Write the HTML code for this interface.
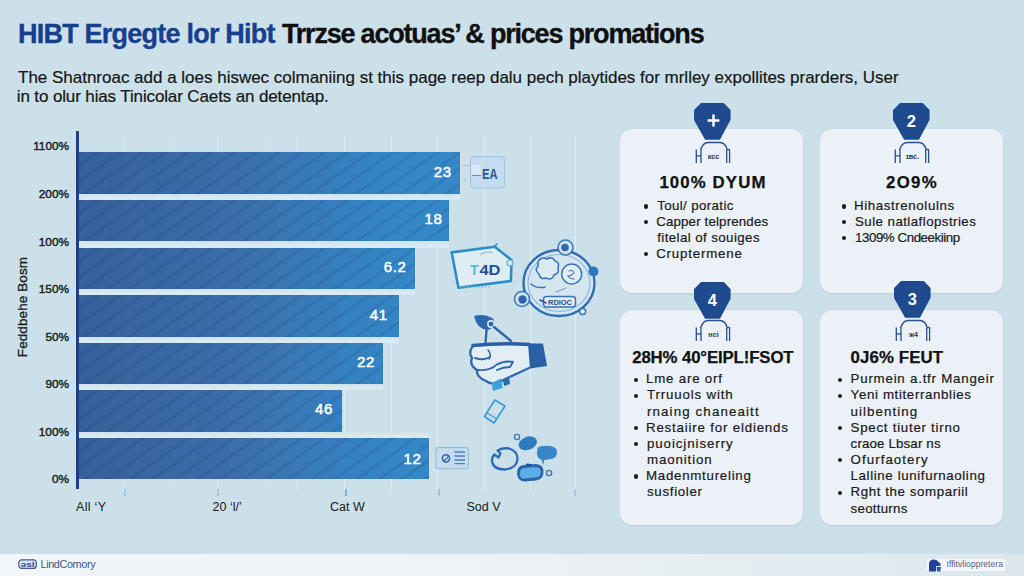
<!DOCTYPE html>
<html><head><meta charset="utf-8">
<style>
*{margin:0;padding:0;box-sizing:border-box}
html,body{width:1024px;height:576px;overflow:hidden}
body{position:relative;font-family:"Liberation Sans",sans-serif;background:#cce0e9;color:#1b1b1b}
.abs{position:absolute;white-space:nowrap}
#title{left:17.8px;top:19.2px;font-size:27px;font-weight:bold;line-height:30px;color:#111;transform:scaleX(.921);transform-origin:0 0}
#title .b{color:#1c4896}
#sub{left:18px;top:67.9px;font-size:17px;line-height:20px;color:#1e1e1e}
.yl{position:absolute;right:955px;font-size:11.8px;font-weight:normal;-webkit-text-stroke:0.45px #222;color:#222;line-height:12px;text-align:right}
.bar{position:absolute;left:79px;height:41.5px;background:
 repeating-linear-gradient(145deg,rgba(25,55,110,0) 0px,rgba(25,55,110,0) 9px,rgba(25,55,110,.16) 10.5px,rgba(25,55,110,.16) 11.5px,rgba(25,55,110,0) 13px),
 linear-gradient(90deg,#35609b 0px,#37629c 30px,#3a6dab 150px,#3a76b2 200px,#3580bf 266px,#3587c5 331px,#3488c7 381px);background-size:auto,381px 100%;background-repeat:repeat,no-repeat}
.bv{position:absolute;color:#fff;font-weight:normal;-webkit-text-stroke:0.5px #fff;font-size:15px;line-height:16px;letter-spacing:0.6px}
.gl{position:absolute;width:1.4px;background:rgba(228,240,247,.75)}
.xl{position:absolute;top:500px;font-size:12.5px;color:#1a1a1a;line-height:14px}
.tk{position:absolute;top:489px;width:1.5px;height:7px;background:#7fb0d4}
.card{position:absolute;background:#ebf1f6;border-radius:12px;box-shadow:0 0.5px 1.5px rgba(120,150,175,.25)}
.badge{position:absolute;width:37px;height:37px}
.ct{position:absolute;font-weight:bold;font-size:16.5px;color:#111;line-height:18px;white-space:nowrap}
.ul{position:absolute;font-size:13px;line-height:16.2px;color:#1a1a1a;white-space:nowrap}
.ul div{position:relative}
.ul div.b:before{content:"";position:absolute;left:-12px;top:6.5px;width:4.5px;height:4.5px;border-radius:50%;background:#1a1a1a}
#foot{position:absolute;left:0;top:553.5px;width:1024px;height:23px;background:linear-gradient(90deg,#f3f6f8 0%,#eef3f6 45%,#e2ebf0 80%,#dce7ed 100%)}
.t{position:absolute;white-space:nowrap;line-height:1}
.bl{position:absolute;width:4.2px;height:4.2px;border-radius:50%;background:#1c1c1c}
</style></head><body>


<!-- chart gridlines -->
<div class="gl" style="left:123.5px;top:136px;height:355px;opacity:.5"></div>
<div class="gl" style="left:172.5px;top:136px;height:355px;opacity:.5"></div>
<div class="gl" style="left:216.5px;top:136px;height:355px;opacity:.5"></div>
<div class="gl" style="left:266px;top:136px;height:355px;opacity:.5"></div>
<div class="gl" style="left:296px;top:136px;height:355px;opacity:.5"></div>
<div class="gl" style="left:343.5px;top:136px;height:355px"></div>
<div class="gl" style="left:391px;top:136px;height:355px"></div>
<div class="gl" style="left:437px;top:136px;height:355px"></div>
<div class="gl" style="left:483.5px;top:136px;height:355px"></div>
<div class="gl" style="left:530px;top:136px;height:355px"></div>
<div class="gl" style="left:575px;top:136px;height:355px"></div>

<div style="position:absolute;left:79px;top:193.5px;width:381px;height:6.0px;background:linear-gradient(180deg,#d0e3ec 0%,#d6e8f1 50%,#dbeef8 85%,#cfe3ee 100%)"></div>
<div style="position:absolute;left:79px;top:241.0px;width:370px;height:6.5px;background:linear-gradient(180deg,#d0e3ec 0%,#d6e8f1 50%,#dbeef8 85%,#cfe3ee 100%)"></div>
<div style="position:absolute;left:79px;top:289.0px;width:335.5px;height:6.0px;background:linear-gradient(180deg,#d0e3ec 0%,#d6e8f1 50%,#dbeef8 85%,#cfe3ee 100%)"></div>
<div style="position:absolute;left:79px;top:336.5px;width:319.5px;height:6.0px;background:linear-gradient(180deg,#d0e3ec 0%,#d6e8f1 50%,#dbeef8 85%,#cfe3ee 100%)"></div>
<div style="position:absolute;left:79px;top:384.0px;width:303.5px;height:6.0px;background:linear-gradient(180deg,#d0e3ec 0%,#d6e8f1 50%,#dbeef8 85%,#cfe3ee 100%)"></div>
<div style="position:absolute;left:79px;top:431.5px;width:349.5px;height:6.0px;background:linear-gradient(180deg,#d0e3ec 0%,#d6e8f1 50%,#dbeef8 85%,#cfe3ee 100%)"></div>
<div class="bar" style="top:152px;width:381px"></div>
<div class="bar" style="top:199.5px;width:370px"></div>
<div class="bar" style="top:247.5px;width:335.5px"></div>
<div class="bar" style="top:295px;width:319.5px"></div>
<div class="bar" style="top:342.5px;width:303.5px"></div>
<div class="bar" style="top:390px;width:263px"></div>
<div class="bar" style="top:437.5px;width:349.5px"></div>

<div style="position:absolute;left:76px;top:131px;width:3px;height:358px;background:#1f3f85"></div>

<div class="tk" style="left:124px;opacity:.5"></div>
<div class="tk" style="left:217px;opacity:.5"></div>
<div class="tk" style="left:345px"></div>
<div class="tk" style="left:438px;opacity:.6"></div>
<div class="tk" style="left:574px;opacity:.5"></div>

<div class="bv" id="v1" style="left:433.8px;top:163.6px">23</div>
<div class="bv" id="v2" style="left:424.6px;top:211.2px">18</div>
<div class="bv" id="v3" style="left:383.8px;top:259px">6.2</div>
<div class="bv" id="v4" style="left:369.8px;top:306.5px">41</div>
<div class="bv" id="v5" style="left:357px;top:354.4px">22</div>
<div class="bv" id="v6" style="left:315px;top:401px">46</div>
<div class="bv" id="v7" style="left:403.6px;top:450.5px">12</div>

<div class="yl" id="y1" style="top:140px">1100%</div>
<div class="yl" style="top:188px">200%</div>
<div class="yl" style="top:235.5px">100%</div>
<div class="yl" style="top:283px">150%</div>
<div class="yl" style="top:331px">50%</div>
<div class="yl" style="top:378px">90%</div>
<div class="yl" style="top:426px">100%</div>
<div class="yl" style="top:473px">0%</div>

<div id="ytitle" class="abs" style="left:23px;top:307.3px;font-size:13.5px;line-height:14px;color:#1a1a1a;letter-spacing:0.1px;-webkit-text-stroke:0.3px #1a1a1a;transform:translate(-50%,-50%) rotate(-90deg)">Feddbehe Bosm</div>

<div class="xl" id="x1" style="left:76px;letter-spacing:0.3px">All ‘Y</div>
<div class="xl" style="left:212.5px">20 ‘l/’</div>
<div class="xl" style="left:330px">Cat W</div>
<div class="xl" style="left:466.5px">Sod V</div>

<!-- DECOR -->
<svg style="position:absolute;left:0;top:0" width="1024" height="576" viewBox="0 0 1024 576">
<!-- EA box -->
<g>
<path d="M463 165.5 H470 M472 175.5 H480 M465 178 V182" stroke="#9cc3e0" stroke-width="1" fill="none"/>
<rect x="470.5" y="156.5" width="34" height="31.5" rx="3.5" fill="#c5dcee" stroke="#9ec2e2" stroke-width="1"/>
<rect x="471" y="165" width="10" height="10.5" fill="#d9e8f3"/>
<path d="M472 175.5 H481" stroke="#5d8fc4" stroke-width="1"/>
<text x="482" y="178.8" font-family="Liberation Sans" font-weight="bold" font-size="15.5" fill="#2a5796" textLength="15.5" lengthAdjust="spacingAndGlyphs">EA</text>
</g>
<!-- tablet -->
<g>
<path d="M451.7 252.4 L494.7 246.7 L511.5 260 L510.9 281 L458.4 287.8 Z" fill="#dfecf4" stroke="#2a8fc4" stroke-width="2.6" stroke-linejoin="round"/>
<path d="M494.7 246.7 L497 243.5" stroke="#2a8fc4" stroke-width="1.5"/>
<circle cx="510" cy="263" r="3" fill="#d6e7f1" stroke="#6ab0d8" stroke-width="1.2"/>
<path d="M460 287 H490" stroke="#7fbadf" stroke-width="1.2" stroke-dasharray="2 1.5"/>
<path d="M480 255 Q486 250 493 253" stroke="#8cc2e2" stroke-width="1.2" fill="none"/>
<text x="470" y="275" font-family="Liberation Sans" font-weight="bold" font-size="14" fill="#55bdd4">T</text>
<text x="479.4" y="275" font-family="Liberation Sans" font-weight="bold" font-size="14" fill="#1f4f8f" textLength="21" lengthAdjust="spacingAndGlyphs">4D</text>
</g>
<!-- gear circle -->
<g fill="none" stroke-linecap="round">
<ellipse cx="559" cy="283" rx="35.5" ry="33" fill="#d4e5ef" stroke="#2f6fb0" stroke-width="2.4"/>
<ellipse cx="559" cy="283" rx="31" ry="28.5" stroke="#8ab8dc" stroke-width="1.2"/>
<path d="M538 262 q3 -6 9 -3 q5 -3 8 2 q5 1 3 7 q2 5 -4 7 q-2 6 -8 3 q-6 2 -7 -4 q-5 -4 -1 -8 z" stroke="#3c78b8" stroke-width="1.6" fill="#dceaf3"/>
<path d="M531 284 q6 5 14 3" stroke="#3c78b8" stroke-width="1.6"/>
<circle cx="571.7" cy="274" r="10" stroke="#3d78b6" stroke-width="1.5" fill="#e2eef5"/>
<path d="M569 271 q4 -2 5 2 q-3 3 -6 3 q2 3 6 3" stroke="#5a88bb" stroke-width="1.3"/>
<circle cx="565.5" cy="247.5" r="7.5" stroke="#3b79b9" stroke-width="1.6" fill="#d4e5ef"/>
<circle cx="565" cy="247.5" r="3.8" fill="#2d6db5" stroke="none"/>
<circle cx="593.5" cy="271.5" r="5" fill="#2e78c2" stroke="none"/>
<circle cx="522" cy="299" r="7.5" stroke="#3b79b9" stroke-width="1.6" fill="#d4e5ef"/>
<circle cx="522.5" cy="299.5" r="4.2" fill="#2d66ad" stroke="none"/>
<rect x="543.5" y="296.5" width="32" height="10.5" rx="3" stroke="#3a72b4" stroke-width="1.5" fill="#e0ecf4"/>
<text x="548" y="305" font-family="Liberation Sans" font-weight="bold" font-size="8" fill="#2a4f88" stroke="none" textLength="24" lengthAdjust="spacingAndGlyphs">RDIOC</text>
<path d="M540 300 L546 303" stroke="#2a4f88" stroke-width="1.5"/>
<circle cx="582.7" cy="311.5" r="3" stroke="#3a72b4" stroke-width="1.4" fill="#e0ecf4"/>
<path d="M556 292 L566 288" stroke="#6a9ccc" stroke-width="1"/>
</g>
<!-- hand -->
<g stroke-linecap="round" stroke-linejoin="round">
<path d="M473 346 Q468 352 472 358 Q469 365 477 370 Q476 377 486 381 Q491 385 499 382 L529 368 L529 345 Q500 343 473 346 Z" fill="#e2edf4"/>
<path d="M474 316 Q484 313 493 318.5 Q496 323 493 327 Q489 331 486 330 Q479 328 476 322 Z" fill="#2f67ad"/>
<circle cx="491" cy="324" r="3.2" fill="none" stroke="#e2edf4" stroke-width="1.4"/>
<path d="M486.5 330 L485.5 343 M494 327 L511 341" stroke="#2f67ad" stroke-width="2.4" fill="none"/>
<path d="M473 345.5 Q500 342.5 529 344.5" stroke="#2a5ea5" stroke-width="3.6" fill="none"/>
<path d="M528 343.5 L543 343.5 L547 366 L530 368.5 Z" fill="#2a5ea5"/>
<path d="M473 346 Q468 352 472 358 Q469 365 477 370 Q476 377 486 381 Q491 385 499 382 L529 368" stroke="#3069ae" stroke-width="2.3" fill="none"/>
<path d="M475 358 Q484 361 490 357 M478 370 Q488 371 495 366 M496 365 Q505 360 513 362 L510 367 Q503 367 497 370" stroke="#3069ae" stroke-width="1.9" fill="none"/>
<path d="M488 350 Q492 355 489 359" stroke="#3069ae" stroke-width="1.5" fill="none"/>
<path d="M491.5 383 L501 378.5 L502.5 388 L493 391 Z" fill="#3da0dc"/>
<path d="M503 380 L509 377 L510 384 L504 386 Z" fill="#2f67ad"/>
</g>
<!-- phone -->
<g fill="none" stroke="#3a9ad8" stroke-width="1.6" stroke-linejoin="round">
<path d="M494.8 400 L505 406 L494 423 L484.5 416.5 Z"/>
<path d="M487 413 L496 418.5" stroke-width="1.1"/>
</g>
<!-- card icon -->
<g>
<rect x="435.8" y="447.6" width="32.6" height="21.2" rx="2.5" fill="#c6dcee" stroke="#8fb7da" stroke-width="1"/>
<circle cx="446" cy="458.3" r="3.6" fill="none" stroke="#2a66aa" stroke-width="1.5"/>
<path d="M443.5 461 Q447 459 449 455.5" stroke="#2a66aa" stroke-width="1.3" fill="none"/>
<path d="M454.5 452 H465 M454.5 456 H465 M454.5 460 H465 M454.5 463.6 H465" stroke="#4a80bd" stroke-width="1.3"/>
</g>
<!-- bottom icons -->
<g stroke-linecap="round">
<path d="M497.5 450.5 Q503 447.5 509 448.5 Q517.5 451 517.5 459 Q517 468 505 469.5 Q493 469.5 492 461 Q492 456.5 494.5 454.5 L498.5 457.5 L500.5 453.5 Z" fill="none" stroke="#2f6db2" stroke-width="2.3" stroke-linejoin="round"/>
<ellipse cx="527.8" cy="443.3" rx="9.5" ry="6.5" transform="rotate(-20 527.8 443.3)" fill="#2f7bc0"/>
<circle cx="517" cy="437" r="2.6" fill="none" stroke="#3a78b8" stroke-width="1.3"/>
<path d="M537.5 448 Q541 445 550 446 Q557 447 557 452 Q557 458 551 459 L544 460 L543.5 465 L541 459.5 Q537 458 537 453 Z" fill="#3a85c8"/>
<path d="M518.5 474 Q518 467 524 466.5 L536 465.5 Q542 466 542 471 Q543 478 536 479 L524 480 Q519 480 518.5 474 Z" fill="#5aaee6" stroke="#2a62ab" stroke-width="2.8"/>
<path d="M527 464.5 L531 465" stroke="#1f4f90" stroke-width="2"/>
<circle cx="549" cy="473" r="2.6" fill="none" stroke="#3a78b8" stroke-width="1.4"/>
</g>
</svg>


<!-- cards -->
<div class="card" style="left:620px;top:128.5px;width:183px;height:164px"></div>
<div class="card" style="left:820px;top:128.5px;width:183px;height:164px"></div>
<div class="card" style="left:620px;top:310px;width:183px;height:215px"></div>
<div class="card" style="left:820px;top:310px;width:183px;height:215px"></div>

<svg class="badge" style="left:694.1px;top:103.3px" viewBox="0 0 37 37"><path d="M7.3 1.2 H29.5 L35.5 7.5 V16.6 L25.4 35.6 H11.8 L1.1 16.6 V7.5 Z" fill="#1f4a8e" stroke="#1f4a8e" stroke-width="2.2" stroke-linejoin="round"/><path d="M19.5 11.6 V23.4 M13.6 17.5 H25.4" stroke="#fff" stroke-width="2.5"/></svg>
<svg class="badge" style="left:893.2px;top:103.3px" viewBox="0 0 37 37"><path d="M7.3 1.2 H29.5 L35.5 7.5 V16.6 L25.4 35.6 H11.8 L1.1 16.6 V7.5 Z" fill="#1f4a8e" stroke="#1f4a8e" stroke-width="2.2" stroke-linejoin="round"/><text x="18.3" y="23.6" font-family="Liberation Sans" font-weight="bold" font-size="16.5" fill="#fff" text-anchor="middle">2</text></svg>
<svg class="badge" style="left:693.5px;top:281.5px" viewBox="0 0 37 37"><path d="M7.3 1.2 H29.5 L35.5 7.5 V16.6 L25.4 35.6 H11.8 L1.1 16.6 V7.5 Z" fill="#1f4a8e" stroke="#1f4a8e" stroke-width="2.2" stroke-linejoin="round"/><text x="18.3" y="23.6" font-family="Liberation Sans" font-weight="bold" font-size="16.5" fill="#fff" text-anchor="middle">4</text></svg>
<svg class="badge" style="left:894.4px;top:281.3px" viewBox="0 0 37 37"><path d="M7.3 1.2 H29.5 L35.5 7.5 V16.6 L25.4 35.6 H11.8 L1.1 16.6 V7.5 Z" fill="#1f4a8e" stroke="#1f4a8e" stroke-width="2.2" stroke-linejoin="round"/><text x="18.3" y="23.6" font-family="Liberation Sans" font-weight="bold" font-size="16.5" fill="#fff" text-anchor="middle">3</text></svg>
<svg style="position:absolute;left:694px;top:140px" width="38" height="25" viewBox="0 0 38 25"><g fill="none" stroke="#2b4f8e" stroke-width="1.3"><path d="M6.5 10 Q9 2.5 14 2.5 H26 Q31 2.5 33 9"/><path d="M2.3 9.5 V23 M7 9.5 V23 M2.3 15.8 H7"/><path d="M32.7 9.5 V23 M35.6 9.5 V23 M32.7 9.5 H35.6"/></g><text x="19.5" y="19.3" font-family="Liberation Sans" font-size="7.2" font-weight="bold" fill="#2d3550" text-anchor="middle">ксс</text></svg>
<svg style="position:absolute;left:893px;top:140px" width="38" height="25" viewBox="0 0 38 25"><g fill="none" stroke="#2b4f8e" stroke-width="1.3"><path d="M6.5 10 Q9 2.5 14 2.5 H26 Q31 2.5 33 9"/><path d="M2.3 9.5 V23 M7 9.5 V23 M2.3 15.8 H7"/><path d="M32.7 9.5 V23 M35.6 9.5 V23 M32.7 9.5 H35.6"/></g><text x="19.5" y="19.3" font-family="Liberation Sans" font-size="7.2" font-weight="bold" fill="#2d3550" text-anchor="middle">ɪвс.</text></svg>
<svg style="position:absolute;left:693.5px;top:318px" width="38" height="25" viewBox="0 0 38 25"><g fill="none" stroke="#2b4f8e" stroke-width="1.3"><path d="M6.5 10 Q9 2.5 14 2.5 H26 Q31 2.5 33 9"/><path d="M2.3 9.5 V23 M7 9.5 V23 M2.3 15.8 H7"/><path d="M32.7 9.5 V23 M35.6 9.5 V23 M32.7 9.5 H35.6"/></g><text x="19.5" y="19.3" font-family="Liberation Sans" font-size="7.2" font-weight="bold" fill="#2d3550" text-anchor="middle">нсі</text></svg>
<svg style="position:absolute;left:894px;top:318px" width="38" height="25" viewBox="0 0 38 25"><g fill="none" stroke="#2b4f8e" stroke-width="1.3"><path d="M6.5 10 Q9 2.5 14 2.5 H26 Q31 2.5 33 9"/><path d="M2.3 9.5 V23 M7 9.5 V23 M2.3 15.8 H7"/><path d="M32.7 9.5 V23 M35.6 9.5 V23 M32.7 9.5 H35.6"/></g><text x="19.5" y="19.3" font-family="Liberation Sans" font-size="7.2" font-weight="bold" fill="#2d3550" text-anchor="middle">ж4</text></svg>




<div class="t" id="h1" style="left:18.00px;top:20.54px;font-size:27px;font-weight:bold;color:#163f8e;letter-spacing:-0.775px;-webkit-text-stroke:0.35px #163f8e;">HIBT Ergegte lor Hibt</div>
<div class="t" id="h2" style="left:282.00px;top:20.54px;font-size:27px;font-weight:bold;color:#101010;letter-spacing:-1.206px;-webkit-text-stroke:0.35px #101010;">Trrzse acotuas’ &amp; prices promations</div>
<div class="t" id="s1" style="left:18.00px;top:68.51px;font-size:17px;font-weight:normal;color:#161616;letter-spacing:-0.009px;-webkit-text-stroke:0.2px #161616;">The Shatnroac add a loes hiswec colmaniing st this page reep dalu pech playtides for mrlley expollites prarders, User</div>
<div class="t" id="s2" style="left:16.80px;top:88.41px;font-size:17px;font-weight:normal;color:#161616;letter-spacing:-0.128px;-webkit-text-stroke:0.2px #161616;">in to olur hias Tinicolar Caets an detentap.</div>
<div class="t" id="t1" style="left:659.40px;top:175.08px;font-size:16.8px;font-weight:bold;color:#111;letter-spacing:1.125px;-webkit-text-stroke:0.25px #111;">100% DYUM</div>
<div class="t" id="t2" style="left:886.00px;top:174.88px;font-size:16.8px;font-weight:bold;color:#111;letter-spacing:1.333px;-webkit-text-stroke:0.25px #111;">2O9%</div>
<div class="t" id="t4" style="left:632.20px;top:349.78px;font-size:16.8px;font-weight:bold;color:#111;letter-spacing:-0.125px;-webkit-text-stroke:0.25px #111;">28H% 40°EIPL!FSOT</div>
<div class="t" id="t3" style="left:850.60px;top:349.78px;font-size:16.8px;font-weight:bold;color:#111;letter-spacing:0.125px;-webkit-text-stroke:0.25px #111;">0J6% FEUT</div>
<div class="t" id="c1_0" style="left:657.20px;top:199.24px;font-size:13.3px;font-weight:normal;color:#1a1a1a;letter-spacing:0.375px;-webkit-text-stroke:0.2px #1a1a1a;">Toul/ poratic</div>
<div class="t" id="c1_1" style="left:656.20px;top:215.14px;font-size:13.3px;font-weight:normal;color:#1a1a1a;letter-spacing:0.156px;-webkit-text-stroke:0.2px #1a1a1a;">Capper telprendes</div>
<div class="t" id="c1_2" style="left:657.20px;top:231.04px;font-size:13.3px;font-weight:normal;color:#1a1a1a;letter-spacing:0.412px;-webkit-text-stroke:0.2px #1a1a1a;">fitelal of souiges</div>
<div class="t" id="c1_3" style="left:656.20px;top:246.94px;font-size:13.3px;font-weight:normal;color:#1a1a1a;letter-spacing:0.800px;-webkit-text-stroke:0.2px #1a1a1a;">Cruptermene</div>
<div class="t" id="c2_0" style="left:854.00px;top:199.24px;font-size:13.3px;font-weight:normal;color:#1a1a1a;letter-spacing:0.607px;-webkit-text-stroke:0.2px #1a1a1a;">Hihastrenolulns</div>
<div class="t" id="c2_1" style="left:855.00px;top:215.14px;font-size:13.3px;font-weight:normal;color:#1a1a1a;letter-spacing:0.447px;-webkit-text-stroke:0.2px #1a1a1a;">Sule natlaflopstries</div>
<div class="t" id="c2_2" style="left:855.00px;top:231.04px;font-size:13.3px;font-weight:normal;color:#1a1a1a;letter-spacing:-0.433px;-webkit-text-stroke:0.2px #1a1a1a;">1309% Cndeekiinp</div>
<div class="t" id="c4_0" style="left:646.00px;top:372.34px;font-size:13.3px;font-weight:normal;color:#1a1a1a;letter-spacing:0.800px;-webkit-text-stroke:0.2px #1a1a1a;">Lme are orf</div>
<div class="t" id="c4_1" style="left:647.00px;top:388.49px;font-size:13.3px;font-weight:normal;color:#1a1a1a;letter-spacing:0.833px;-webkit-text-stroke:0.2px #1a1a1a;">Trruuols with</div>
<div class="t" id="c4_2" style="left:647.00px;top:404.64px;font-size:13.3px;font-weight:normal;color:#1a1a1a;letter-spacing:1.133px;-webkit-text-stroke:0.2px #1a1a1a;">rnaing chaneaitt</div>
<div class="t" id="c4_3" style="left:646.00px;top:420.79px;font-size:13.3px;font-weight:normal;color:#1a1a1a;letter-spacing:0.810px;-webkit-text-stroke:0.2px #1a1a1a;">Restaiire for eldiends</div>
<div class="t" id="c4_4" style="left:647.00px;top:436.94px;font-size:13.3px;font-weight:normal;color:#1a1a1a;letter-spacing:0.917px;-webkit-text-stroke:0.2px #1a1a1a;">puoicjniserry</div>
<div class="t" id="c4_5" style="left:647.00px;top:453.09px;font-size:13.3px;font-weight:normal;color:#1a1a1a;letter-spacing:0.875px;-webkit-text-stroke:0.2px #1a1a1a;">maonition</div>
<div class="t" id="c4_6" style="left:646.00px;top:469.24px;font-size:13.3px;font-weight:normal;color:#1a1a1a;letter-spacing:0.731px;-webkit-text-stroke:0.2px #1a1a1a;">Madenmtureling</div>
<div class="t" id="c4_7" style="left:647.00px;top:485.39px;font-size:13.3px;font-weight:normal;color:#1a1a1a;letter-spacing:0.688px;-webkit-text-stroke:0.2px #1a1a1a;">susfioler</div>
<div class="t" id="c3_0" style="left:850.60px;top:372.34px;font-size:13.3px;font-weight:normal;color:#1a1a1a;letter-spacing:0.775px;-webkit-text-stroke:0.2px #1a1a1a;">Purmein a.tfr Mangeir</div>
<div class="t" id="c3_1" style="left:850.60px;top:388.49px;font-size:13.3px;font-weight:normal;color:#1a1a1a;letter-spacing:0.639px;-webkit-text-stroke:0.2px #1a1a1a;">Yeni mtiterranblies</div>
<div class="t" id="c3_2" style="left:850.60px;top:404.64px;font-size:13.3px;font-weight:normal;color:#1a1a1a;letter-spacing:1.056px;-webkit-text-stroke:0.2px #1a1a1a;">uilbenting</div>
<div class="t" id="c3_3" style="left:850.60px;top:420.79px;font-size:13.3px;font-weight:normal;color:#1a1a1a;letter-spacing:0.735px;-webkit-text-stroke:0.2px #1a1a1a;">Spect tiuter tirno</div>
<div class="t" id="c3_4" style="left:850.60px;top:436.94px;font-size:13.3px;font-weight:normal;color:#1a1a1a;letter-spacing:0.154px;-webkit-text-stroke:0.2px #1a1a1a;">craoe Lbsar ns</div>
<div class="t" id="c3_5" style="left:850.60px;top:453.09px;font-size:13.3px;font-weight:normal;color:#1a1a1a;letter-spacing:1.050px;-webkit-text-stroke:0.2px #1a1a1a;">Ofurfaotery</div>
<div class="t" id="c3_6" style="left:850.60px;top:469.24px;font-size:13.3px;font-weight:normal;color:#1a1a1a;letter-spacing:0.619px;-webkit-text-stroke:0.2px #1a1a1a;">Lalline lunifurnaoling</div>
<div class="t" id="c3_7" style="left:850.60px;top:485.39px;font-size:13.3px;font-weight:normal;color:#1a1a1a;letter-spacing:0.588px;-webkit-text-stroke:0.2px #1a1a1a;">Rght the sompariil</div>
<div class="t" id="c3_8" style="left:850.60px;top:501.54px;font-size:13.3px;font-weight:normal;color:#1a1a1a;letter-spacing:0.250px;-webkit-text-stroke:0.2px #1a1a1a;">seotturns</div>
<div class="bl" style="left:644.15px;top:204.40px"></div>
<div class="bl" style="left:644.15px;top:220.30px"></div>
<div class="bl" style="left:644.15px;top:252.10px"></div>
<div class="bl" style="left:842.00px;top:204.40px"></div>
<div class="bl" style="left:842.00px;top:220.30px"></div>
<div class="bl" style="left:842.00px;top:236.20px"></div>
<div class="bl" style="left:634.20px;top:377.50px"></div>
<div class="bl" style="left:634.20px;top:393.65px"></div>
<div class="bl" style="left:634.20px;top:425.95px"></div>
<div class="bl" style="left:634.20px;top:442.10px"></div>
<div class="bl" style="left:634.20px;top:474.40px"></div>
<div class="bl" style="left:837.90px;top:377.50px"></div>
<div class="bl" style="left:837.90px;top:393.65px"></div>
<div class="bl" style="left:837.90px;top:425.95px"></div>
<div class="bl" style="left:837.90px;top:458.25px"></div>
<div class="bl" style="left:837.90px;top:490.55px"></div>
<div id="foot"></div>
<svg style="position:absolute;left:18px;top:559px" width="20" height="11" viewBox="0 0 20 11"><rect x="0.8" y="0.8" width="17.5" height="8.6" rx="3" fill="#dbe6f2" stroke="#3b5d9a" stroke-width="1.2"/><text x="9.6" y="8" font-family="Liberation Sans" font-weight="bold" font-size="7.5" fill="#2a4c8c" text-anchor="middle" textLength="14" lengthAdjust="spacingAndGlyphs">ǝsl</text></svg>
<div class="abs" style="left:40.5px;top:558.8px;font-size:10.8px;line-height:11px;color:#3a5686;letter-spacing:-0.35px">LindComory</div>
<div style="position:absolute;left:927px;top:559px;width:78px;height:12px;background:#f3f7fa;border-radius:1px"></div>
<svg style="position:absolute;left:927px;top:557.5px" width="16" height="15" viewBox="0 0 16 15"><path d="M2 13.5 V6 Q2 2 6 1.5 Q10 1 11.5 4 L13.5 5.5 V8 H9 V13.5 Z" fill="#23439a"/><path d="M9.5 9 H14 L13.3 13.5 H10 Z" fill="#3d56a8"/></svg>
<div class="abs" style="left:946.5px;top:559.5px;font-size:8.5px;line-height:9px;color:#4f6088;letter-spacing:0.05px">Iffitvlioppretera</div>

</body></html>
